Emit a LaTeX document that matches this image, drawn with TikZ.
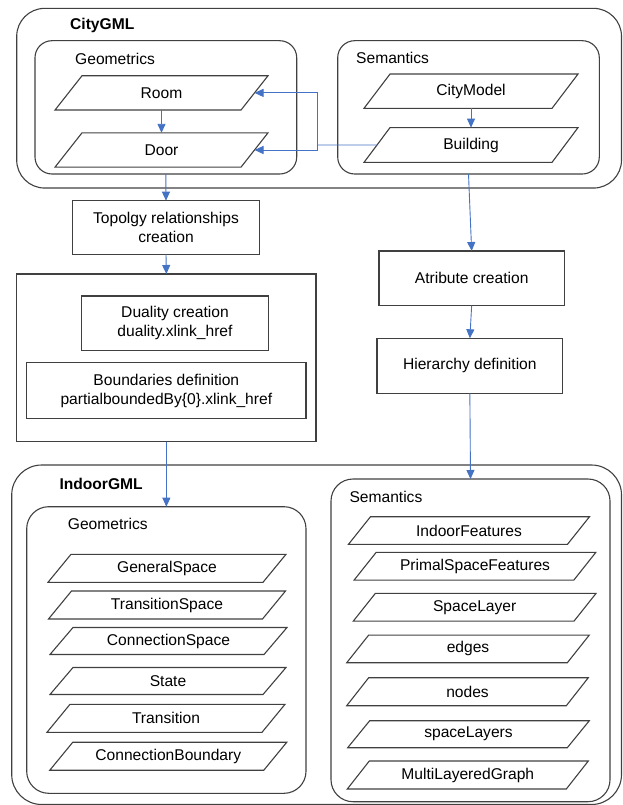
\documentclass[tikz,border=0pt]{standalone}
\usepackage{fontspec}
\setmainfont{Liberation Sans}
\usetikzlibrary{arrows.meta,calc}
\definecolor{edgegray}{HTML}{404040}
\definecolor{flowblue}{HTML}{4472C4}
\tikzset{
  every node/.style={font=\fontsize{15.6}{19}\selectfont, text=black},
  boxline/.style={draw=edgegray, line width=1.1pt},
  container/.style={boxline, rectangle, inner sep=0pt, outer sep=0pt},
  stepbox/.style={boxline, rectangle, inner sep=0pt, outer sep=0pt, align=center},
  pgtext/.style={draw=none, rectangle, inner sep=0pt, outer sep=0pt},
  title/.style={anchor=west, inner sep=0pt},
  flow/.style={draw=flowblue, line width=0.9pt},
  flowarrow/.style={flow, -{Triangle[length=9pt,width=8pt]}},
}
% name, x, y, width, height, skew, text
\newcommand\pgm[7]{%
  \node[pgtext, minimum width=#4pt, minimum height=#5pt] (#1) at (#2,#3) {#7};
  \draw[boxline] ([xshift=#6pt]#1.north west) -- (#1.north east)
    -- ([xshift=-#6pt]#1.south east) -- (#1.south west) -- cycle;
  \coordinate (#1R) at ($(#1.north east)!0.5!([xshift=-#6pt]#1.south east)$);
  \coordinate (#1L) at ($(#1.south west)!0.5!([xshift=#6pt]#1.north west)$);
}
\begin{document}
\begin{tikzpicture}[x=1pt, y=-1pt]
\useasboundingbox (0,0) rectangle (622,805);

% ---------- CityGML ----------
\node[container, rounded corners=28pt, minimum width=604.8pt, minimum height=179.7pt] (citygml) at (319.1,98.2) {};
\node[title, font=\fontsize{15.6}{19}\selectfont\bfseries] (citygmlT) at (70,25) {CityGML};

\node[container, rounded corners=17pt, minimum width=261.7pt, minimum height=133.3pt] (geo1) at (165.85,107.35) {};
\node[title] (geo1T) at (75,59) {Geometrics};
\node[container, rounded corners=17pt, minimum width=261.6pt, minimum height=133.3pt] (sem1) at (468.5,107.35) {};
\node[title] (sem1T) at (356,58) {Semantics};

\pgm{room}{161.5}{92.9}{213}{34.3}{27}{Room}
\pgm{door}{161.5}{150}{213}{34.3}{27}{Door}
\pgm{cm}{471}{91.2}{214}{34.3}{26}{CityModel}
\pgm{bldg}{471}{145}{214}{34.7}{26}{Building}

\draw[flowarrow] (room.south) -- (door.north);
\draw[flowarrow] (cm.south) -- (bldg.north);
\coordinate (j) at (317,145);
\draw[flow] (bldgL) -- (j);
\draw[flowarrow] (j) |- (roomR);
\draw[flowarrow] (j) |- (doorR);

% ---------- middle ----------
\node[stepbox, minimum width=186.6pt, minimum height=53.6pt] (topo) at (166,227.5) {Topolgy relationships\\creation};
\node[container, minimum width=299.3pt, minimum height=167.7pt] (big) at (166.35,357.85) {};
\node[stepbox, minimum width=186.6pt, minimum height=54.7pt] (dual) at (175,323.35) {Duality creation\\duality.xlink\_href};
\node[stepbox, minimum width=279.3pt, minimum height=55.6pt] (bound) at (166.35,390.5) {Boundaries definition\\partialboundedBy\{0\}.xlink\_href};

\node[stepbox, minimum width=185.3pt, minimum height=54.7pt] (attr) at (471.65,278.35) {Atribute creation};
\node[stepbox, minimum width=185.7pt, minimum height=55pt] (hier) at (469.85,365.8) {Hierarchy definition};

% ---------- IndoorGML ----------
\node[container, rounded corners=30pt, minimum width=609.8pt, minimum height=339.5pt] (indoor) at (316.6,634.75) {};
\node[title, font=\fontsize{15.6}{19}\selectfont\bfseries] (indoorT) at (59.3,484.3) {IndoorGML};

\node[container, rounded corners=22pt, minimum width=279.3pt, minimum height=286.6pt] (geo2) at (166.35,650) {};
\node[title] (geo2T) at (67.7,524.3) {Geometrics};
\node[container, rounded corners=22pt, minimum width=279pt, minimum height=322.7pt] (sem2) at (470.5,640.35) {};
\node[title] (sem2T) at (349.3,496.7) {Semantics};

\pgm{gs}{167}{568.3}{238}{28}{23}{GeneralSpace}
\pgm{ts}{167}{605}{237}{28}{23}{TransitionSpace}
\pgm{cs}{168.5}{641}{237}{27}{23}{ConnectionSpace}
\pgm{st}{168}{681}{236}{27}{23}{State}
\pgm{tr}{166}{718.3}{238}{28}{23}{Transition}
\pgm{cb}{168.3}{756.2}{237}{28}{23}{ConnectionBoundary}

\pgm{inf}{469}{530.5}{241}{27.6}{22}{IndoorFeatures}
\pgm{psf}{475}{566.2}{241.7}{27.7}{22}{PrimalSpaceFeatures}
\pgm{sl}{474.7}{607.2}{242.7}{27.7}{22}{SpaceLayer}
\pgm{ed}{468}{648.9}{242.6}{27.7}{22}{edges}
\pgm{nd}{467.5}{691.7}{241.6}{28}{22}{nodes}
\pgm{sls}{468.5}{734.2}{241.6}{27}{22}{spaceLayers}
\pgm{mlg}{467.8}{775}{241}{28}{22}{MultiLayeredGraph}

% ---------- connectors ----------
\draw[flowarrow] (geo1.south) -- (topo.north);
\draw[flowarrow] (topo.south) -- (big.north);
\draw[flow] (big.south) -- (big.south |- indoor.north);
\draw[flowarrow] (big.south |- indoor.north) -- (geo2.north);
\draw[flowarrow] (sem1.south) -- (attr.north);
\draw[flowarrow] (attr.south) -- (hier.north);
\draw[flowarrow] (hier.south) -- (sem2.north);
\end{tikzpicture}
\end{document}
